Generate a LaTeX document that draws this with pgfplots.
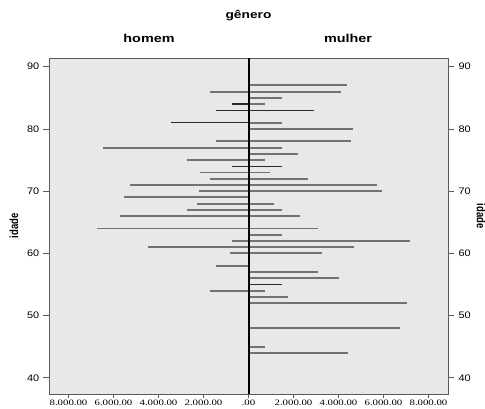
\documentclass[border=0pt]{standalone}
\usepackage{pgfplots}
\pgfplotsset{compat=1.18}
\usepackage{fontspec}
\setmainfont{Liberation Sans}
\newfontfamily\serifnum{Liberation Serif}
\definecolor{bgc}{HTML}{E8E8E8}
\definecolor{axc}{HTML}{5A5A5A}
\definecolor{barc}{HTML}{727272}
\definecolor{bard}{HTML}{2A2A2A}
\begin{document}
\begin{tikzpicture}
\path[use as bounding box] (0,0) rectangle (485pt,408pt);
\pgfplotsset{
  common/.style={
    at={(49pt,14pt)}, anchor=south west, scale only axis,
    width=399pt, height=336pt,
    xmin=-8867, xmax=8867, ymin=37.4, ymax=91.4,
    tick align=outside,
    /pgf/number format/assume math mode=true,
    ytick={40,50,60,70,80,90},
    yticklabel style={font=\fontsize{9.5}{10}\selectfont, xscale=1.15, text=black},
    tick style={axc, line width=0.7pt},
  }
}
\begin{axis}[common,
  major tick length=4pt,
  axis background/.style={fill=bgc},
  axis line style={axc, line width=0.8pt},
  xtick={-8000,-6000,-4000,-2000,0,2000,4000,6000,8000},
  xticklabels={8.000.00,6.000.00,4.000.00,2.000.00,.00,2.000.00,4.000.00,6.000.00,8.000.00},
  xticklabel style={font=\serifnum\fontsize{8.3}{9}\selectfont, xscale=1.3, text=black, yshift=-1.2pt, inner sep=0.5pt},
  xtick pos=bottom,
  ytick style={draw=none},
  yticklabel pos=left,
  yticklabel style={xshift=-1.5pt},
]
% homem (left)
\addplot[xcomb, barc, line width=1.8pt] coordinates {
(-1711,86) (-1444,78) (-6481,77) (-2719,75) (-2156,73) (-1711,72)
(-5252,71) (-2200,70) (-5519,69) (-2289,68) (-2748,67) (-5696,66)
(-6718,64) (-718,62) (-4452,61) (-807,60) (-1430,58) (-1711,54)
};
\addplot[xcomb, bard, line width=1.4pt] coordinates {
(-718,84) (-1444,83) (-3430,81) (-718,74)
};
% mulher (right)
\addplot[xcomb, barc, line width=1.8pt] coordinates {
(4378,87) (4096,86) (1474,85) (748,84) (1474,81) (4644,80)
(4570,78) (1474,77) (2185,76) (748,75) (956,73) (2659,72)
(5696,71) (5948,70) (1119,68) (1474,67) (2274,66) (3104,64)
(1474,63) (7193,62) (4704,61) (3267,60) (3104,57) (4007,56)
(748,54) (1756,53) (7030,52) (6748,48) (748,45) (4437,44)
};
\addplot[xcomb, bard, line width=1.4pt] coordinates {
(2926,83) (1474,74) (1474,55)
};
\draw[black, line width=2pt] (axis cs:0,37.4) -- (axis cs:0,91.4);
\end{axis}
\begin{axis}[common,
  major tick length=6pt,
  hide x axis,
  axis line style={draw=none},
  ytick pos=both,
  yticklabel pos=right,
  yticklabel style={xshift=0.5pt},
]
\end{axis}
\node[font=\bfseries\fontsize{11}{13}\selectfont, xscale=1.25] at (248.5pt,392pt) {gênero};
\node[font=\bfseries\fontsize{11.5}{13}\selectfont, xscale=1.25] at (149pt,370pt) {homem};
\node[font=\bfseries\fontsize{11.5}{13}\selectfont, xscale=1.25] at (348pt,370pt) {mulher};
\node[font=\bfseries\fontsize{9.5}{10}\selectfont, rotate=90] at (14pt,182pt) {\scalebox{1}[1.25]{idade}};
\node[font=\bfseries\fontsize{9.5}{10}\selectfont, rotate=-90] at (481pt,192pt) {\scalebox{1}[1.25]{idade}};
\end{tikzpicture}
\end{document}
